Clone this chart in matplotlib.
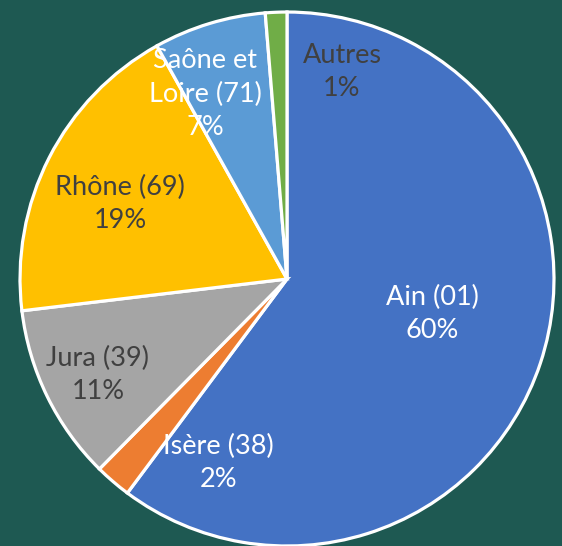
import matplotlib
matplotlib.use("Agg")
import matplotlib.pyplot as plt

categories = ["Ain (01)", "Isère (38)", "Jura (39)", "Rhône (69)", "Saône et\nLoire (71)", "Autres"]
values = [60.2, 2.2, 10.7, 18.8, 6.8, 1.3]
colors = ["#4472C4", "#ED7D31", "#A5A5A5", "#FFC000", "#5B9BD5", "#70AD47"]
text_colors = ["white", "white", "#404040", "#404040", "white", "#404040"]
label_pos = [(0.543, -0.131), (-0.258, -0.689), (-0.708, -0.36),
             (-0.625, 0.281), (-0.307, 0.693), (0.206, 0.775)]

bg = "#1E5952"
fig = plt.figure(figsize=(5.62, 5.46), dpi=100)
fig.patch.set_facecolor(bg)
ax = fig.add_axes([0, 0, 1, 1])
ax.set_facecolor(bg)

total = sum(values)
ax.pie(values, colors=colors, startangle=90, counterclock=False,
       radius=1.0, wedgeprops=dict(edgecolor="white", linewidth=2.3))

for cat, v, tc, (x, y) in zip(categories, values, text_colors, label_pos):
    pct = round(100 * v / total)
    ax.text(x, y, f"{cat}\n{pct}%", ha="center", va="center", color=tc,
            fontsize=19.5, family=["Lato", "DejaVu Sans"], linespacing=1.42)

ax.set_xlim(-1.075, 1.030)
ax.set_ylim(-1.0, 1.045)
ax.set_aspect("equal")
ax.axis("off")
fig.savefig("out.png", dpi=100, facecolor=bg)
